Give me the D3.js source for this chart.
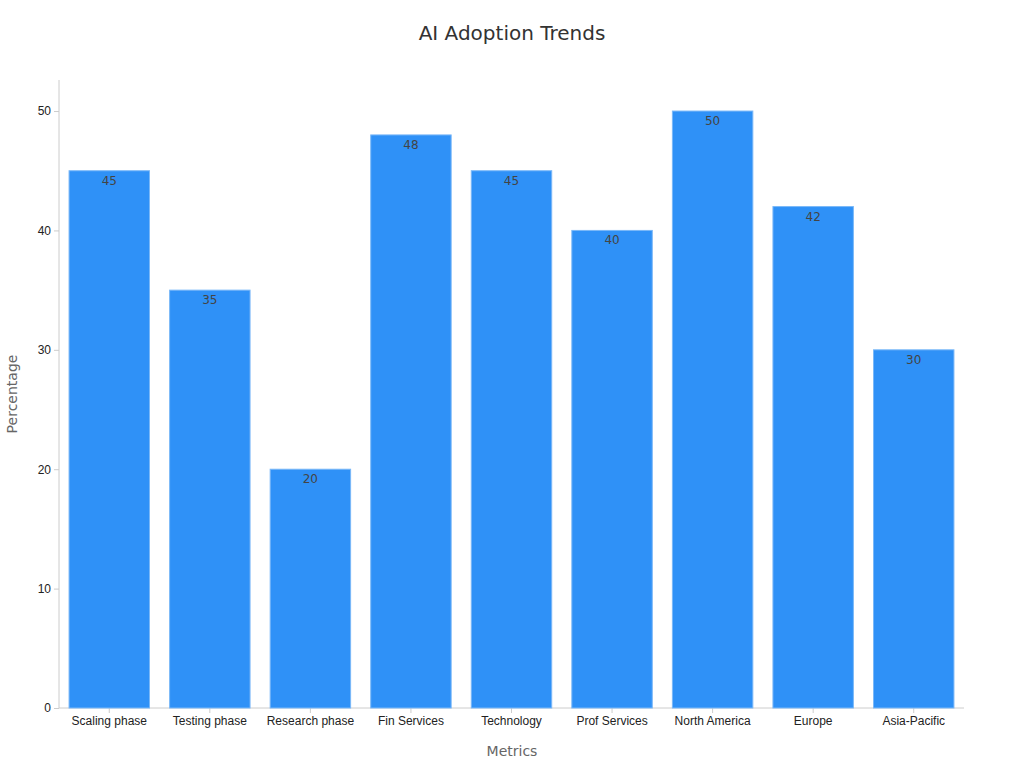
<!DOCTYPE html>
<html><head><meta charset="utf-8">
<script src="https://cdn.jsdelivr.net/npm/d3@7"></script>
<style>body{margin:0;background:#fff}svg{font-family:"DejaVu Sans",sans-serif}</style>
</head><body><svg id="c" width="1024" height="768"></svg>
<script>
const categories=["Scaling phase","Testing phase","Research phase","Fin Services","Technology","Prof Services","North America","Europe","Asia-Pacific"];
const values=[45,35,20,48,45,40,50,42,30];
const yTicks=[0,10,20,30,40,50];
const svg=d3.select("#c");
const m={l:59,r:964,t:80,b:708};
const x=d3.scaleBand().domain(categories).range([m.l,m.r]).paddingInner(0.2).paddingOuter(0.1);
const y=d3.scaleLinear().domain([0,52.6]).range([m.b,m.t]);
svg.append("text").attr("x",512).attr("y",40).attr("text-anchor","middle").attr("font-size",20).attr("fill","#333").text("AI Adoption Trends");
const ya=svg.append("g").attr("transform",`translate(${m.l},0)`).call(d3.axisLeft(y).tickValues(yTicks).tickSize(5).tickPadding(3));
const xa=svg.append("g").attr("transform",`translate(0,${m.b})`).call(d3.axisBottom(x).tickSize(5).tickPadding(3));
[ya,xa].forEach(a=>{a.selectAll("path,line").attr("stroke","#ccc");a.selectAll("text").attr("font-size",12).attr("fill","#222");});
ya.select(".domain").attr("d",`M0,${m.t}V${m.b}`);
xa.select(".domain").attr("d",`M${m.l},0H${m.r}`);
svg.append("g").selectAll("rect").data(values).join("rect")
 .attr("x",(d,i)=>x(categories[i])).attr("width",x.bandwidth())
 .attr("y",d=>y(d)).attr("height",d=>y(0)-y(d))
 .attr("fill","#2f91f7").attr("stroke","#7ab8f8").attr("stroke-width",1);
svg.append("g").selectAll("text").data(values).join("text")
 .attr("x",(d,i)=>x(categories[i])+x.bandwidth()/2).attr("y",d=>y(d)+14)
 .attr("text-anchor","middle").attr("font-size",12).attr("fill","#444").text(d=>d);
svg.append("text").attr("x",512).attr("y",756).attr("text-anchor","middle").attr("font-size",14).attr("fill","#666").text("Metrics");
svg.append("text").attr("transform","translate(17,394) rotate(-90)").attr("text-anchor","middle").attr("font-size",14).attr("fill","#666").text("Percentage");
</script></body></html>
